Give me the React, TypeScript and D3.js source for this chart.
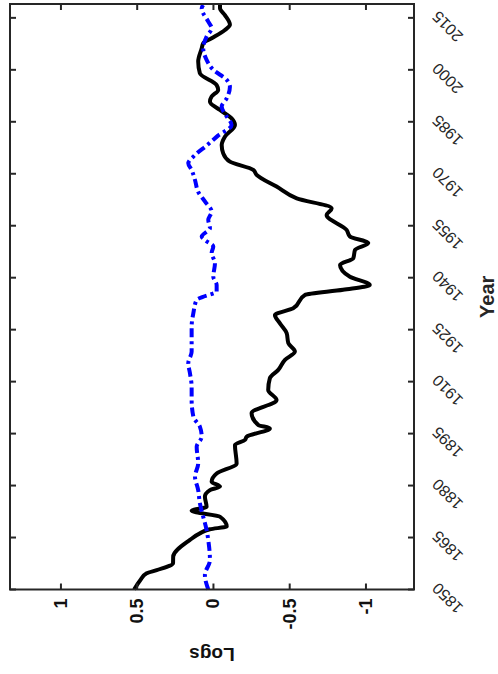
import * as d3 from "d3";

const W = 498;
const H = 674;

// the figure is laid out upright (Year across, Logs up) and then turned a
// quarter turn counter-clockwise, like the exported picture
const box = { left: 84.5, right: 670, top: 10, bottom: 414 };

const yearTicks = [1850, 1865, 1880, 1895, 1910, 1925, 1940, 1955, 1970, 1985, 2000, 2015];
const logTicks = [1, 0.5, 0, -0.5, -1];
const logTickLabels = ["1", "0.5", "0", "-0.5", "-1"];

// black solid series
const blackYears = [
  1850, 1852.7, 1854.7, 1855.6, 1857.6, 1859.5, 1864.3, 1866.2, 1867.4, 1868.2,
  1871, 1872.7, 1873.9, 1876.8, 1878.7, 1879.7, 1881.1, 1883.5, 1886.4, 1891.7,
  1893.2, 1894.1, 1896.5, 1897.5, 1900.9, 1904.7, 1907.6, 1911, 1913.4, 1916.3,
  1918.7, 1921.1, 1924, 1926.8, 1929.2, 1931.2, 1935, 1936.5, 1937.9, 1940.3,
  1943.7, 1945.6, 1948, 1950, 1951.9, 1953.8, 1958.1, 1960, 1962.9, 1966.3,
  1969.7, 1971.1, 1973.5, 1975.9, 1978.3, 1980.7, 1984.1, 1986, 1988.4, 1990.8,
  1992.3, 1994.2, 1995.6, 1999, 2002.4, 2006.2, 2007.7, 2009.1, 2011.5, 2013,
  2015.8, 2017.8, 2018.7,
];
const blackValues = [
  0.52, 0.48, 0.438, 0.372, 0.265, 0.264, 0.154, 0.089, 0.023, -0.087,
  -0.043, 0.143, 0.045, 0.056, 0.023, -0.043, 0.012, -0.021, -0.152, -0.141,
  -0.207, -0.218, -0.37, -0.294, -0.25, -0.414, -0.359, -0.37, -0.425, -0.469,
  -0.534, -0.491, -0.48, -0.436, -0.403, -0.523, -0.6, -0.85, -1.025, -0.895,
  -0.83, -0.917, -0.928, -1.015, -0.895, -0.873, -0.742, -0.775, -0.546, -0.414,
  -0.283, -0.261, -0.108, -0.064, -0.054, -0.075, -0.141, -0.119, -0.043, 0.023,
  0.012, -0.031, -0.021, 0.089, 0.1, 0.077, 0.067, 0.012, -0.075, -0.108,
  -0.075, -0.043, -0.043,
];

// blue dash-dot series
const blueYears = [
  1850, 1854.2, 1858.5, 1864.3, 1867.2, 1871, 1874.9, 1878.7, 1882.6, 1886.4,
  1891.2, 1894.1, 1897, 1899.9, 1904.7, 1908.5, 1912.4, 1915.3, 1918.6, 1922,
  1925.9, 1929.7, 1933.6, 1934.5, 1936, 1937.9, 1940.3, 1944.2, 1947.1, 1949,
  1950.9, 1951.9, 1954.3, 1956.7, 1959.1, 1962, 1964.8, 1968.2, 1971.1, 1973,
  1975.4, 1978.3, 1981, 1984.1, 1986.5, 1989.4, 1991.8, 1995.1, 1997.1, 2000,
  2002.9, 2006.2, 2009.6, 2012, 2013.9, 2017.8, 2018.7,
];
const blueValues = [
  0.034, 0.056, 0.023, 0.034, 0.045, 0.067, 0.089, 0.1, 0.121, 0.1,
  0.11, 0.077, 0.089, 0.132, 0.143, 0.143, 0.154, 0.165, 0.143, 0.143,
  0.143, 0.132, 0.11, 0.067, -0.021, -0.021, 0.001, -0.01, 0.012, 0.001,
  0.056, 0.077, 0.023, 0.034, 0.012, 0.056, 0.1, 0.121, 0.143, 0.165,
  0.121, 0.04, -0.03, -0.119, -0.087, -0.054, -0.087, -0.108, -0.087, 0.001,
  0.045, 0.067, 0.045, 0.012, 0.034, 0.077, 0.067,
];

const font = "'Liberation Sans', Arial, Helvetica, sans-serif";
const axisColor = "#262626";

const App = () => {
  const x = d3.scaleLinear().domain([1850, 2019]).range([box.left, box.right]);
  const y = d3.scaleLinear().domain([-1.315, 1.334]).range([box.bottom, box.top]);

  const line = d3
    .line<number>()
    .x((d) => x(d))
    .curve(d3.curveMonotoneX);

  const blackPath = line.y((_, i) => y(blackValues[i]))(blackYears);
  const bluePath = line.y((_, i) => y(blueValues[i]))(blueYears);

  const midX = (box.left + box.right) / 2;
  const midY = (box.top + box.bottom) / 2;

  return (
    <svg
      width={W}
      height={H}
      style={{ position: "absolute", left: 0, top: 0, background: "#fff" }}
      fontFamily={font}
    >
      <g transform={`translate(0,${H}) rotate(-90)`}>
        <path d={blackPath} fill="none" stroke="#000" strokeWidth={4} strokeLinejoin="round" />
        <path
          d={bluePath}
          fill="none"
          stroke="#0000ff"
          strokeWidth={4}
          strokeDasharray="9,4,3,4"
        />

        <rect
          x={box.left}
          y={box.top}
          width={box.right - box.left}
          height={box.bottom - box.top}
          fill="none"
          stroke={axisColor}
          strokeWidth={2}
        />

        {yearTicks.map((t) => (
          <g key={t}>
            <line x1={x(t)} x2={x(t)} y1={box.bottom} y2={box.bottom - 6} stroke={axisColor} strokeWidth={2} />
            <line x1={x(t)} x2={x(t)} y1={box.top} y2={box.top + 6} stroke={axisColor} strokeWidth={2} />
            <text
              transform={`translate(${x(t) + 4},${box.bottom + 21}) rotate(-45)`}
              textAnchor="end"
              dominantBaseline="central"
              fontSize={16}
              fill={axisColor}
            >
              {t}
            </text>
          </g>
        ))}

        {logTicks.map((t, i) => (
          <g key={t}>
            <line x1={box.left} x2={box.left + 6} y1={y(t)} y2={y(t)} stroke={axisColor} strokeWidth={2} />
            <line x1={box.right} x2={box.right - 6} y1={y(t)} y2={y(t)} stroke={axisColor} strokeWidth={2} />
            <text
              x={box.left - 9}
              y={y(t)}
              textAnchor="end"
              dominantBaseline="central"
              fontSize={18}
              fontWeight="bold"
              fill="#111"
            >
              {logTickLabels[i]}
            </text>
          </g>
        ))}

        <text
          transform={`translate(26,${midY}) rotate(-90)`}
          textAnchor="middle"
          fontSize={19}
          fontWeight="bold"
          fill="#111"
        >
          Logs
        </text>
        <text x={midX} y={494} textAnchor="middle" fontSize={20} fontWeight="bold" fill={axisColor}>
          Year
        </text>
      </g>
    </svg>
  );
};

export default App;
